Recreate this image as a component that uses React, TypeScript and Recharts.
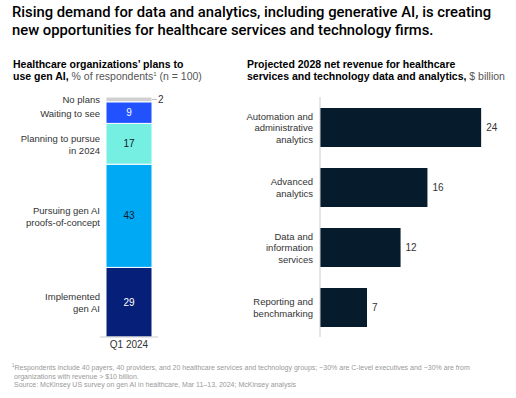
import React from 'react';
import { BarChart, Bar, XAxis, YAxis, LabelList } from 'recharts';

// ---- Data ----
const stackPeriod = ['Q1 2024'];
const stackKeys = ['implemented', 'pursuing', 'planning', 'waiting', 'noplans'];
const stackNames = [
  ['Implemented', 'gen AI'],
  ['Pursuing gen AI', 'proofs-of-concept'],
  ['Planning to pursue', 'in 2024'],
  ['Waiting to see'],
  ['No plans'],
];
const stackValues = [29, 43, 17, 9, 2];
const stackColors = ['#061f79', '#00a9f4', '#76efe3', '#2251ff', '#d0d0d0'];
const stackValueColors = ['#ffffff', '#0a1a2a', '#0a1a2a', '#ffffff', '#333333'];

const revenueCategories = [
  'Automation and\nadministrative\nanalytics',
  'Advanced\nanalytics',
  'Data and\ninformation\nservices',
  'Reporting and\nbenchmarking',
];
const revenueValues = [24, 16, 12, 7];

const stackData = stackPeriod.map((p) => {
  const row: Record<string, any> = { name: p };
  stackKeys.forEach((k, i) => (row[k] = stackValues[i]));
  return row;
});
const revenueData = revenueCategories.map((c, i) => ({ name: c, value: revenueValues[i] }));

const LABEL_FONT = '"Liberation Sans", Arial, sans-serif';
const TITLE_FONT = 'Roboto, "Liberation Sans", Arial, sans-serif';

const makeStackLabel = (idx: number) => (props: any) => {
  const { x, y, width, height, value } = props;
  const cx = Number(x) + Number(width) / 2;
  const cy = Number(y) + Number(height) / 2;
  const lines = stackNames[idx];
  const lh = 11.5;
  const startY = cy - ((lines.length - 1) * lh) / 2;
  const isOutside = Number(height) < 10;
  return (
    <g>
      <text
        x={Number(x) - 6}
        y={startY}
        textAnchor="end"
        dominantBaseline="central"
        fontSize={9.5}
        fontFamily={LABEL_FONT}
        fill="#333"
      >
        {lines.map((l, i) => (
          <tspan key={i} x={Number(x) - 6} dy={i === 0 ? 0 : lh}>
            {l}
          </tspan>
        ))}
      </text>
      {isOutside ? (
        <g>
          <line
            x1={Number(x) + Number(width)}
            x2={Number(x) + Number(width) + 5}
            y1={cy}
            y2={cy}
            stroke="#bbb"
            strokeWidth={1}
          />
          <text
            x={Number(x) + Number(width) + 6}
            y={cy}
            dominantBaseline="central"
            fontSize={10}
            fontFamily={LABEL_FONT}
            fill="#333"
          >
            {value}
          </text>
        </g>
      ) : (
        <text
          x={cx}
          y={cy}
          textAnchor="middle"
          dominantBaseline="central"
          fontSize={10}
          fontFamily={LABEL_FONT}
          fill={stackValueColors[idx]}
        >
          {value}
        </text>
      )}
    </g>
  );
};

const RevenueTick = (props: any) => {
  const { x, y, payload } = props;
  const lines = String(payload.value).split('\n');
  const lh = 11.5;
  const startY = Number(y) - ((lines.length - 1) * lh) / 2;
  return (
    <text
      x={Number(x)}
      y={startY}
      textAnchor="end"
      dominantBaseline="central"
      fontSize={9.5}
      fontFamily={LABEL_FONT}
      fill="#333"
    >
      {lines.map((l, i) => (
        <tspan key={i} x={Number(x)} dy={i === 0 ? 0 : lh}>
          {l}
        </tspan>
      ))}
    </text>
  );
};

export default function App() {
  return (
    <div
      style={{
        position: 'absolute',
        left: 0,
        top: 0,
        width: 516,
        height: 398,
        background: '#fff',
        overflow: 'hidden',
      }}
    >
      {/* Title */}
      <div
        style={{
          position: 'absolute',
          left: 12,
          top: 3,
          fontFamily: TITLE_FONT,
          fontWeight: 500,
          fontSize: 14.8,
          lineHeight: '18px',
          color: '#000',
          whiteSpace: 'nowrap',
        }}
      >
        <div>Rising demand for data and analytics, including generative AI, is creating</div>
        <div>new opportunities for healthcare services and technology firms.</div>
      </div>

      {/* Left subtitle */}
      <div
        style={{
          position: 'absolute',
          left: 13,
          top: 58,
          fontFamily: LABEL_FONT,
          fontSize: 10.5,
          lineHeight: '12px',
          color: '#000',
          whiteSpace: 'nowrap',
        }}
      >
        <div style={{ fontWeight: 700 }}>Healthcare organizations’ plans to</div>
        <div>
          <span style={{ fontWeight: 700 }}>use gen AI,</span>
          <span style={{ color: '#555' }}>
            {' '}% of respondents<sup style={{ fontSize: 6, lineHeight: 0 }}>1</sup> (n = 100)
          </span>
        </div>
      </div>

      {/* Right subtitle */}
      <div
        style={{
          position: 'absolute',
          left: 247,
          top: 58,
          fontFamily: LABEL_FONT,
          fontSize: 10.5,
          lineHeight: '12px',
          color: '#000',
          whiteSpace: 'nowrap',
        }}
      >
        <div style={{ fontWeight: 700 }}>Projected 2028 net revenue for healthcare</div>
        <div>
          <span style={{ fontWeight: 700 }}>services and technology data and analytics,</span>
          <span style={{ color: '#555' }}> $ billion</span>
        </div>
      </div>

      {/* Left stacked chart */}
      <div style={{ position: 'absolute', left: 0, top: 0 }}>
        <BarChart
          width={240}
          height={398}
          data={stackData}
          margin={{ top: 97, right: 82, bottom: 38, left: 100 }}
        >
          <XAxis
            dataKey="name"
            height={23}
            axisLine={{ stroke: '#ccc' }}
            tickLine={false}
            tickSize={2}
            tick={{ fontSize: 10, fill: '#333', fontFamily: LABEL_FONT }}
          />
          <YAxis hide domain={[0, 100]} />
          {stackKeys.map((k, i) => (
            <Bar
              key={k}
              dataKey={k}
              stackId="a"
              fill={stackColors[i]}
              stroke="#fff"
              strokeWidth={1}
              barSize={46}
              isAnimationActive={false}
            >
              <LabelList dataKey={k} content={makeStackLabel(i)} />
            </Bar>
          ))}
        </BarChart>
      </div>

      {/* Right horizontal bar chart */}
      <div style={{ position: 'absolute', left: 240, top: 0 }}>
        <BarChart
          width={276}
          height={398}
          data={revenueData}
          layout="vertical"
          margin={{ top: 97, right: 8, bottom: 61, left: 0 }}
        >
          <XAxis type="number" hide domain={[0, 28]} />
          <YAxis
            type="category"
            dataKey="name"
            width={80}
            axisLine={{ stroke: '#ccc' }}
            tickLine={false}
            tickSize={0}
            tickMargin={7}
            tick={<RevenueTick />}
          />
          <Bar dataKey="value" fill="#061c2c" barSize={39} isAnimationActive={false}>
            <LabelList
              dataKey="value"
              position="right"
              offset={5}
              style={{ fontSize: 10, fill: '#333', fontFamily: LABEL_FONT }}
            />
          </Bar>
        </BarChart>
      </div>

      {/* Footnote */}
      <div
        style={{
          position: 'absolute',
          left: 12,
          top: 364,
          fontFamily: LABEL_FONT,
          fontSize: 7,
          lineHeight: '8.5px',
          color: '#999',
          whiteSpace: 'nowrap',
        }}
      >
        <div>
          <sup style={{ fontSize: 4.5, lineHeight: 0 }}>1</sup>Respondents include 40 payers, 40 providers, and 20 healthcare services and technology groups; ~30% are C-level executives and ~30% are from
        </div>
        <div style={{ paddingLeft: 2 }}>organizations with revenue &gt; $10 billion.</div>
        <div style={{ paddingLeft: 2 }}>Source: McKinsey US survey on gen AI in healthcare, Mar 11–13, 2024; McKinsey analysis</div>
      </div>
    </div>
  );
}
